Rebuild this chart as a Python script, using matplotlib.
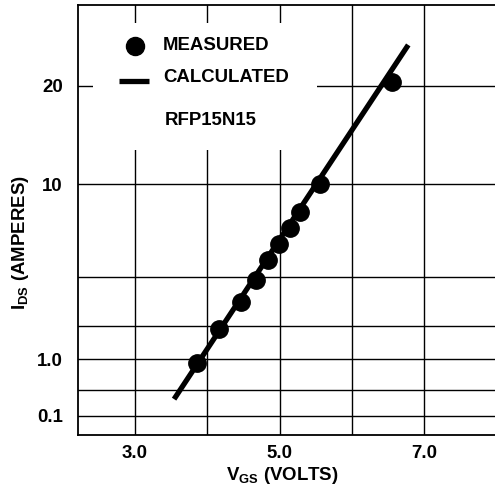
import matplotlib
matplotlib.use('Agg')
import matplotlib.pyplot as plt
from matplotlib.patches import Rectangle

plt.rcParams['font.family'] = ['Liberation Sans', 'DejaVu Sans']
plt.rcParams['font.weight'] = 'bold'
plt.rcParams['mathtext.fontset'] = 'custom'
plt.rcParams['mathtext.rm'] = 'Liberation Sans:bold'
plt.rcParams['mathtext.it'] = 'Liberation Sans:bold'

# measured points (VGS in volts, IDS in amperes)
vgs_meas = [3.86, 4.16, 4.47, 4.67, 4.84, 4.99, 5.15, 5.28, 5.56, 6.56]
ids_meas = [2.82, 3.59, 4.34, 5.07, 5.84, 6.54, 7.33, 8.20, 10.0, 20.6]

# calculated line end points
vgs_calc = [3.54, 6.78]
ids_calc = [2.19, 26.7]

# grid / tick positions as drawn on the original sheet
x_grid = [3.0, 4.0, 5.0, 6.0, 7.0]
x_ticks = [3.0, 5.0, 7.0]
x_labels = ['3.0', '5.0', '7.0']
y_grid = [1.95, 2.33, 2.90, 3.66, 5.18, 10.0]
y_ticks = [1.95, 2.90, 10.0, 20.0]
y_labels = ['0.1', '1.0', '10', '20']

fig = plt.figure(figsize=(4.95, 4.88), dpi=100)
ax = fig.add_axes([0.1576, 0.1086, 0.8424, 0.8812])
ax.set_yscale('log')
ax.set_xlim(2.211, 7.98)
ax.set_ylim(1.70, 35.4)

for x in x_grid:
    ax.axvline(x, color='black', lw=1.0, zorder=1)
for y in y_grid + [20.0]:
    ax.axhline(y, color='black', lw=1.0, zorder=1)

# white area behind the legend block
ax.add_patch(Rectangle((0.036, 0.663), 0.537, 0.295, transform=ax.transAxes,
                       facecolor='white', edgecolor='none', zorder=2))

ax.plot(vgs_calc, ids_calc, color='black', lw=3.8, solid_capstyle='butt', zorder=3)
ax.plot(vgs_meas, ids_meas, 'o', color='black', ms=12.5, zorder=4)

# legend drawn by hand
ax.plot([0.137], [0.905], 'o', color='black', ms=13, transform=ax.transAxes, zorder=5)
ax.plot([0.098, 0.170], [0.824, 0.824], color='black', lw=3.8,
        solid_capstyle='butt', transform=ax.transAxes, zorder=5)
ax.text(0.204, 0.905, 'MEASURED', transform=ax.transAxes, fontsize=13.4,
        fontweight='bold', va='center', ha='left', zorder=5)
ax.text(0.204, 0.832, 'CALCULATED', transform=ax.transAxes, fontsize=13.4,
        fontweight='bold', va='center', ha='left', zorder=5)
ax.text(0.209, 0.732, 'RFP15N15', transform=ax.transAxes, fontsize=13.4,
        fontweight='bold', va='center', ha='left', zorder=5)

ax.set_xticks(x_ticks)
ax.set_xticklabels(x_labels)
ax.set_yticks(y_ticks)
ax.set_yticklabels(y_labels)
ax.minorticks_off()
ax.tick_params(length=0, labelsize=13.4, pad=7)
ax.tick_params(axis='y', pad=11)
for lbl in ax.get_xticklabels() + ax.get_yticklabels():
    lbl.set_fontweight('bold')

for side in ['left', 'bottom', 'top']:
    ax.spines[side].set_linewidth(1.3)
ax.spines['right'].set_visible(False)

ax.set_xlabel(r'$\mathrm{V_{GS}}$ (VOLTS)', fontsize=13.4, fontweight='bold', va='center')
ax.set_ylabel(r'$\mathrm{I_{DS}}$ (AMPERES)', fontsize=13.4, fontweight='bold', va='center')
ax.xaxis.set_label_coords(0.489, -0.095)
ax.yaxis.set_label_coords(-0.139, 0.447)

fig.savefig('out.png', dpi=100)
